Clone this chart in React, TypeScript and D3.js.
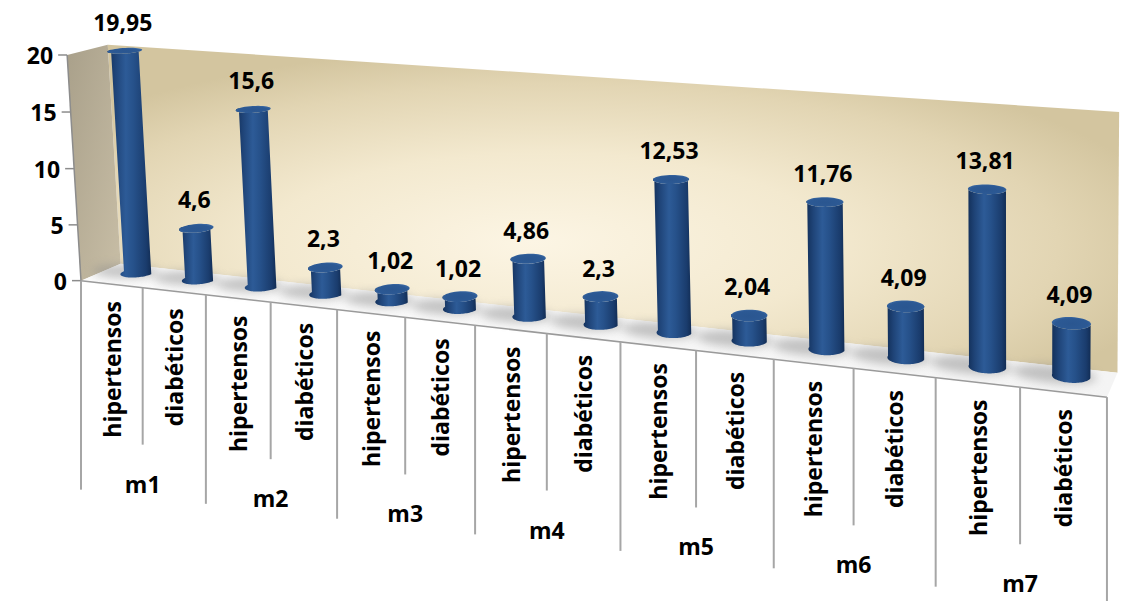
import React from 'react';
import * as d3 from 'd3';

// ---------- data ----------
const groups = ['m1', 'm2', 'm3', 'm4', 'm5', 'm6', 'm7'];
const seriesNames = ['hipertensos', 'diabéticos'];
const hipertensos = [19.95, 15.6, 1.02, 4.86, 12.53, 11.76, 13.81];
const diabeticos = [4.6, 2.3, 1.02, 2.3, 2.04, 4.09, 4.09];
const valueTicks = [0, 5, 10, 15, 20];
const valueMax = 20;

// ---------- 3D frame calibration (world: X category slot, Y 0..1 value fraction, Z 0 front .. 1 back) ----------
const frameWorld: [number, number, number][] = [
  [0, 0, 0], [4, 0, 0], [8, 0, 0], [10, 0, 0], [12, 0, 0], [14, 0, 0],
  [0, 1, 0], [0, 0, 1], [0, 1, 1], [14, 0, 1], [14, 1, 1],
];
const frameImage: [number, number][] = [
  [82, 281], [337, 310.5], [620, 340.5], [773, 359], [935, 378], [1108, 398.5],
  [67, 54], [120, 265], [108, 44], [1118, 370], [1119, 114],
];

function fitCamera(world: [number, number, number][], image: [number, number][]) {
  const S = 1000;
  const rows: number[][] = [];
  const rhs: number[] = [];
  world.forEach(([X, Y, Z], k) => {
    const x = image[k][0] / S, y = image[k][1] / S;
    rows.push([X, Y, Z, 1, 0, 0, 0, 0, -x * X, -x * Y, -x * Z]); rhs.push(x);
    rows.push([0, 0, 0, 0, X, Y, Z, 1, -y * X, -y * Y, -y * Z]); rhs.push(y);
  });
  const n = 11;
  const M = Array.from({ length: n }, () => new Array(n + 1).fill(0));
  rows.forEach((r, k) => {
    for (let i = 0; i < n; i++) {
      for (let j = 0; j < n; j++) M[i][j] += r[i] * r[j];
      M[i][n] += r[i] * rhs[k];
    }
  });
  for (let c = 0; c < n; c++) {
    let p = c;
    for (let r = c + 1; r < n; r++) if (Math.abs(M[r][c]) > Math.abs(M[p][c])) p = r;
    [M[c], M[p]] = [M[p], M[c]];
    for (let r = 0; r < n; r++) {
      if (r === c) continue;
      const f = M[r][c] / M[c][c];
      for (let j = c; j <= n; j++) M[r][j] -= f * M[c][j];
    }
  }
  const p = M.map((row, i) => row[n] / row[i]);
  return (X: number, Y: number, Z: number): [number, number] => {
    const w = p[8] * X + p[9] * Y + p[10] * Z + 1;
    return [S * (p[0] * X + p[1] * Y + p[2] * Z + p[3]) / w, S * (p[4] * X + p[5] * Y + p[6] * Z + p[7]) / w];
  };
}

const proj = fitCamera(frameWorld, frameImage);

// ---------- scales ----------
const slots = groups.flatMap((g) => seriesNames.map((s) => `${g}|${s}`));
const xBand = d3.scaleBand<string>().domain(slots).range([0, slots.length]).padding(0);
const yScale = d3.scaleLinear().domain([0, valueMax]).range([0, 1]);

const bars = groups.flatMap((g, gi) => [
  { key: `${g}|${seriesNames[0]}`, value: hipertensos[gi] },
  { key: `${g}|${seriesNames[1]}`, value: diabeticos[gi] },
]);

const BAR_Z = 0.66;
const RX = 0.225;
const RZ = 0.27;
const FONT = '"Open Sans", Lato, sans-serif';
const FS = 23;

const pts = (arr: [number, number][]) => arr.map((p) => `${p[0].toFixed(2)},${p[1].toFixed(2)}`).join(' ');

function ring(xc: number, Y: number, z: number, a0: number, a1: number, rx = RX, rz = RZ, n = 40) {
  return d3.range(n + 1).map((k) => {
    const t = a0 + ((a1 - a0) * k) / n;
    return proj(xc + rx * Math.cos(t), Y, z + rz * Math.sin(t));
  });
}

export default function App() {
  const W = 1121, H = 601;
  const N = slots.length;

  const backWall = [proj(0, 0, 1), proj(N, 0, 1), proj(N, 1, 1), proj(0, 1, 1)];
  const sideWall = [proj(0, 0, 0), proj(0, 0, 1), proj(0, 1, 1), proj(0, 1, 0)];
  const floor = [proj(0, 0, 0), proj(N, 0, 0), proj(N, 0, 1), proj(0, 0, 1)];

  return (
    <svg width={W} height={H} style={{ position: 'absolute', left: 0, top: 0, background: '#fff' }}>
      <defs>
        <radialGradient id="wallGrad" cx="0.45" cy="0.62" r="0.62" fx="0.42" fy="0.6">
          <stop offset="0" stopColor="#fcf5e4" />
          <stop offset="0.45" stopColor="#f3e9cf" />
          <stop offset="0.8" stopColor="#e2d5b3" />
          <stop offset="1" stopColor="#d3c59f" />
        </radialGradient>
        <linearGradient id="sideGrad" x1="0" y1="0" x2="1" y2="1">
          <stop offset="0" stopColor="#a9a08a" />
          <stop offset="1" stopColor="#c8bea6" />
        </linearGradient>
        <linearGradient id="floorGrad" x1="0" y1="0" x2="1" y2="0">
          <stop offset="0" stopColor="#fbfbfb" />
          <stop offset="1" stopColor="#f4f4f4" />
        </linearGradient>
        <linearGradient id="barGrad" x1="0" y1="0" x2="1" y2="0">
          <stop offset="0" stopColor="#13305a" />
          <stop offset="0.18" stopColor="#1f4478" />
          <stop offset="0.42" stopColor="#2d5b97" />
          <stop offset="0.6" stopColor="#26518a" />
          <stop offset="0.88" stopColor="#1a3c6d" />
          <stop offset="1" stopColor="#122d55" />
        </linearGradient>
        <radialGradient id="capGrad" cx="0.5" cy="0.55" r="0.6">
          <stop offset="0" stopColor="#2a5690" />
          <stop offset="0.7" stopColor="#2c5994" />
          <stop offset="1" stopColor="#3d6ba6" />
        </radialGradient>
        <filter id="blur" x="-50%" y="-100%" width="200%" height="300%">
          <feGaussianBlur stdDeviation="5" />
        </filter>
      </defs>

      {/* walls and floor */}
      <polygon points={pts(backWall)} fill="url(#wallGrad)" />
      <polygon points={pts(sideWall)} fill="url(#sideGrad)" />
      <polygon points={pts(floor)} fill="url(#floorGrad)" />

      {/* floor shadows */}
      {bars.map((b) => {
        const xc = (xBand(b.key) ?? 0) + xBand.bandwidth() / 2;
        const sh = ring(xc - 0.2, 0, BAR_Z, 0, 2 * Math.PI, RX * 2.2, RZ * 1.3);
        return <polygon key={'s' + b.key} points={pts(sh)} fill="#8c8c8c" opacity={0.5} filter="url(#blur)" />;
      })}

      {/* value axis */}
      <line x1={proj(0, 0, 0)[0]} y1={proj(0, 0, 0)[1]} x2={proj(0, 1, 0)[0]} y2={proj(0, 1, 0)[1]} stroke="#8c8c8c" strokeWidth={1.5} />
      {valueTicks.map((t) => {
        const [x, y] = proj(0, yScale(t), 0);
        return (
          <g key={'t' + t}>
            <line x1={x - 9} y1={y} x2={x} y2={y} stroke="#8c8c8c" strokeWidth={1.5} />
            <text x={x - 14} y={y} textAnchor="end" dominantBaseline="central" fontFamily={FONT} fontWeight={700} fontSize={FS} fill="#000">
              {t}
            </text>
          </g>
        );
      })}

      {/* category axis */}
      <line x1={proj(0, 0, 0)[0]} y1={proj(0, 0, 0)[1]} x2={proj(N, 0, 0)[0]} y2={proj(N, 0, 0)[1]} stroke="#9a9a9a" strokeWidth={1.5} />
      {d3.range(N + 1).map((k) => {
        const [x, y] = proj(k, 0, 0);
        const len = k % 2 === 0 ? 209 : 157;
        return <line key={'d' + k} x1={x} y1={y} x2={x} y2={y + len} stroke="#a6a6a6" strokeWidth={2} />;
      })}
      {slots.map((s) => {
        const xc = (xBand(s) ?? 0) + xBand.bandwidth() / 2;
        const [x, y] = proj(xc, 0, 0);
        const label = s.split('|')[1];
        return (
          <text key={'c' + s} transform={`translate(${x},${y + 17}) rotate(-90)`} textAnchor="end" dominantBaseline="central"
            fontFamily={FONT} fontWeight={700} fontSize={FS} fill="#000">
            {label}
          </text>
        );
      })}
      {groups.map((g, gi) => {
        const [x, y] = proj(gi * 2 + 1, 0, 0);
        return (
          <text key={'g' + g} x={x} y={y + 196} textAnchor="middle" dominantBaseline="central" fontFamily={FONT} fontWeight={700} fontSize={FS} fill="#000">
            {g}
          </text>
        );
      })}

      {/* cylinders */}
      {bars.map((b) => {
        const xc = (xBand(b.key) ?? 0) + xBand.bandwidth() / 2;
        const h = yScale(b.value);
        const bottomFront = ring(xc, 0, BAR_Z, Math.PI, 2 * Math.PI);
        const topFront = ring(xc, h, BAR_Z, Math.PI, 2 * Math.PI).reverse();
        const cap = ring(xc, h, BAR_Z, 0, 2 * Math.PI);
        const top = proj(xc, h, BAR_Z);
        return (
          <g key={'b' + b.key}>
            <polygon points={pts([...bottomFront, ...topFront])} fill="url(#barGrad)" />
            <polygon points={pts(cap)} fill="url(#capGrad)" />
            <text x={top[0] - 2} y={top[1] - 20} textAnchor="middle" fontFamily={FONT} fontWeight={700} fontSize={FS} fill="#000">
              {String(b.value).replace('.', ',')}
            </text>
          </g>
        );
      })}
    </svg>
  );
}
